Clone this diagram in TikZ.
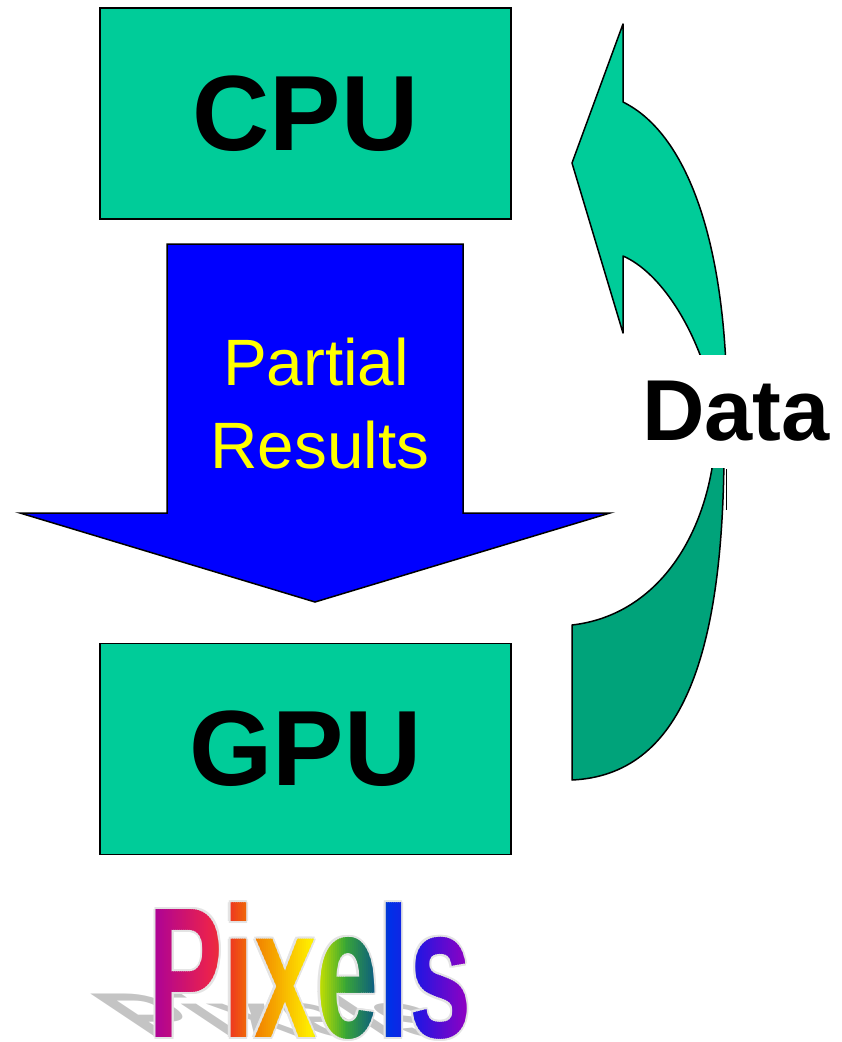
\documentclass[tikz,border=0pt]{standalone}
\usepackage{fontspec}
\setmainfont{Liberation Sans}

\definecolor{boxgreen}{RGB}{0,204,153}
\definecolor{darkgreen}{RGB}{0,163,122}
\definecolor{arrowblue}{RGB}{0,0,255}
\definecolor{labelyellow}{RGB}{255,255,0}
\definecolor{shadowgray}{RGB}{196,196,196}
\definecolor{rimgray}{RGB}{228,228,228}
% rainbow stops for the word art
\definecolor{pxA}{RGB}{168,0,156}
\definecolor{pxB}{RGB}{232,32,80}
\definecolor{pxC}{RGB}{238,60,30}
\definecolor{pxD}{RGB}{240,120,0}
\definecolor{pxE}{RGB}{255,240,0}
\definecolor{pxF}{RGB}{200,224,0}
\definecolor{pxG}{RGB}{60,170,50}
\definecolor{pxH}{RGB}{16,100,120}
\definecolor{pxI}{RGB}{0,48,232}
\definecolor{pxJ}{RGB}{40,20,224}
\definecolor{pxK}{RGB}{150,0,192}

\newcommand\pixfont{\bfseries\fontsize{186}{200}\selectfont}

\begin{document}
\begin{tikzpicture}[x=1pt, y=-1pt,
  outline/.style={draw=black, line width=1.5pt, line join=miter},
  unitbox/.style={outline, fill=boxgreen, minimum width=411pt, minimum height=211pt,
    inner sep=0pt, font=\bfseries\fontsize{107}{120}\selectfont},
  yellowtext/.style={text=labelyellow, inner sep=0pt, anchor=base,
    font=\fontsize{65.6}{80}\selectfont},
  pixword/.style={inner sep=0pt, font=\pixfont}]
\useasboundingbox (0,0) rectangle (842,1042);

% processing units
\node[unitbox] (cpu) at (305.5,113.5) {CPU};
\node[unitbox] (gpu) at (305.5,749) {GPU};

% block arrow carrying partial results
\filldraw[outline, fill=arrowblue]
  (167,244) -- (463,244) -- (463,513) -- (610,513) -- (315,602)
  -- (20,513) -- (167,513) -- cycle;
\node[yellowtext] (partial) at (316,385) {Partial};
\node[yellowtext] (results) at (320,468) {Results};

% curved return arrow, upper part with head
\filldraw[outline, fill=boxgreen, line join=round]
  (623,24) -- (623,102)
  .. controls (690,135) and (727,250) .. (727,410)
  -- (716,410)
  .. controls (700,330) and (660,272) .. (623,256)
  -- (623,333) -- (572,163) -- cycle;

% curved return arrow, lower part
\filldraw[outline, fill=darkgreen, line join=round]
  (572,625) -- (572,780)
  .. controls (680,775) and (726,660) .. (724,430)
  -- (716,430)
  .. controls (712,530) and (660,615) .. (572,625)
  -- cycle;
\draw[outline] (726.7,469) -- (726.7,510);

% label on the return arrow
\node[fill=white, minimum width=200pt, minimum height=113pt, inner sep=0pt,
  font=\bfseries\fontsize{86.5}{100}\selectfont] (data) at (736,411.5) {Data};

% word art: floor shadow
\begin{scope}[shift={(310,1037.5)}]
  \node[pixword, text=shadowgray, anchor=base, xslant=-1.5, yscale=0.34,
    xscale=0.6, transform shape] (pixshadow) at (0,0) {Pixels};
\end{scope}

% word art: light rim
\foreach \dx/\dy [count=\k] in {2.2/0, -2.2/0, 0/2.2, 0/-2.2, 1.6/1.6, -1.6/1.6, 1.6/-1.6, -1.6/-1.6} {
  \node[pixword, text=rimgray, xscale=0.6, transform shape] (pixrim\k)
    at (310+\dx,971+\dy) {Pixels};
}

% word art: rainbow letters, built from thin clipped vertical strips
\foreach \xa/\xb/\ca/\cb [count=\s] in {130/150/pxA/pxA, 150/208/pxA/pxB,
    208/232/pxB/pxC, 232/252/pxC/pxD, 252/312/pxD/pxE, 312/320/pxE/pxF,
    320/345/pxF/pxG, 345/372/pxG/pxH, 372/390/pxH/pxI, 390/420/pxI/pxJ,
    420/470/pxJ/pxK, 470/490/pxK/pxK} {
  \pgfmathtruncatemacro\n{max(1,round((\xb-\xa)/2))}
  \foreach \j in {1,...,\n} {
    \pgfmathsetmacro\xl{\xa+(\j-1)*(\xb-\xa)/\n}
    \pgfmathsetmacro\xr{\xa+\j*(\xb-\xa)/\n+0.5}
    \pgfmathtruncatemacro\pct{100-round(100*(\j-0.5)/\n)}
    \begin{scope}
      \clip (\xl,880) rectangle (\xr,1042);
      \node[pixword, text=\ca!\pct!\cb, xscale=0.6, transform shape]
        (pixstrip\s-\j) at (310,971) {Pixels};
    \end{scope}
  }
}
\end{tikzpicture}
\end{document}
